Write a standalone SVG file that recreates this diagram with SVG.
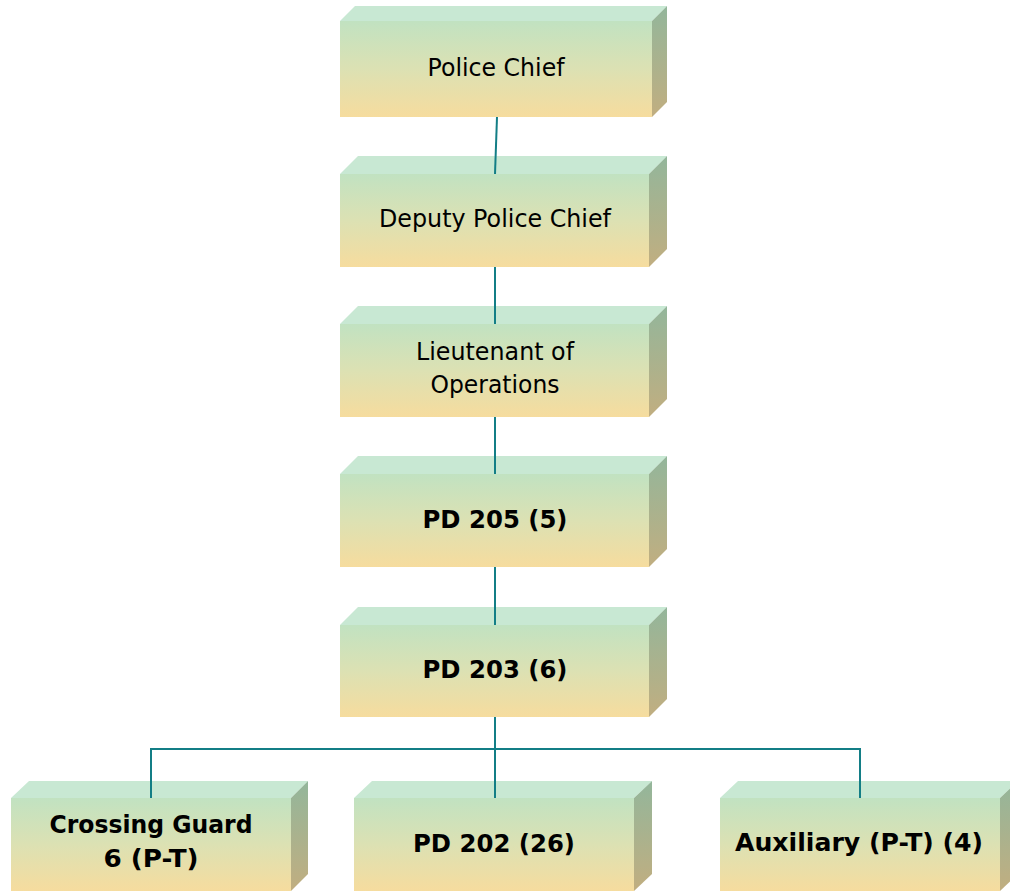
<svg xmlns="http://www.w3.org/2000/svg" width="1010" height="892" viewBox="0 0 1010 892">
<defs>
<linearGradient id="gFront" x1="0" y1="0" x2="0" y2="1">
<stop offset="0" stop-color="#c1e2c1"/>
<stop offset="0.5" stop-color="#dce1b3"/>
<stop offset="1" stop-color="#f6dc9e"/>
</linearGradient>
<linearGradient id="gSide" x1="0" y1="0" x2="0" y2="1">
<stop offset="0" stop-color="#93b69b"/>
<stop offset="1" stop-color="#c1ae80"/>
</linearGradient>
<style>
.top{fill:#c8e8d3}
.front{fill:url(#gFront)}
.side{fill:url(#gSide)}
.conn{fill:none;stroke:#137e86;stroke-width:2}
.t{font-family:"DejaVu Sans","Verdana",sans-serif;font-size:25px;fill:#000;text-anchor:middle}
.b{font-family:"DejaVu Sans","Verdana",sans-serif;font-size:24px;font-weight:bold;fill:#000;text-anchor:middle}
</style>
</defs>
<g id="n1">
<polygon class="top" points="340,21 355,6 667,6 652,21"/>
<polygon class="side" points="652,21 667,6 667,102 652,117"/>
<rect class="front" x="340" y="21" width="312" height="96"/>
<text class="t" x="496" y="76" textLength="137" lengthAdjust="spacingAndGlyphs">Police Chief</text>
</g>
<g id="n2">
<polygon class="top" points="340,174 358,156 667,156 649,174"/>
<polygon class="side" points="649,174 667,156 667,249 649,267"/>
<rect class="front" x="340" y="174" width="309" height="93"/>
<text class="t" x="495" y="227" textLength="232" lengthAdjust="spacingAndGlyphs">Deputy Police Chief</text>
</g>
<g id="n3">
<polygon class="top" points="340,324 358,306 667,306 649,324"/>
<polygon class="side" points="649,324 667,306 667,399 649,417"/>
<rect class="front" x="340" y="324" width="309" height="93"/>
<text class="t" x="495" y="360" textLength="158" lengthAdjust="spacingAndGlyphs">Lieutenant of</text>
<text class="t" x="495" y="393" textLength="129" lengthAdjust="spacingAndGlyphs">Operations</text>
</g>
<g id="n4">
<polygon class="top" points="340,474 358,456 667,456 649,474"/>
<polygon class="side" points="649,474 667,456 667,549 649,567"/>
<rect class="front" x="340" y="474" width="309" height="93"/>
<text class="b" x="495" y="528" textLength="145" lengthAdjust="spacingAndGlyphs">PD 205 (5)</text>
</g>
<g id="n5">
<polygon class="top" points="340,625 358,607 667,607 649,625"/>
<polygon class="side" points="649,625 667,607 667,699 649,717"/>
<rect class="front" x="340" y="625" width="309" height="92"/>
<text class="b" x="495" y="678" textLength="145" lengthAdjust="spacingAndGlyphs">PD 203 (6)</text>
</g>
<g id="n6">
<polygon class="top" points="11,798 29,781 308,781 291,798"/>
<polygon class="side" points="291,798 308,781 308,874 291,891"/>
<rect class="front" x="11" y="798" width="280" height="93"/>
<text class="b" x="151" y="833" textLength="203" lengthAdjust="spacingAndGlyphs">Crossing Guard</text>
<text class="b" x="151" y="867" textLength="95" lengthAdjust="spacingAndGlyphs">6 (P-T)</text>
</g>
<g id="n7">
<polygon class="top" points="354,798 372,781 652,781 634,798"/>
<polygon class="side" points="634,798 652,781 652,874 634,891"/>
<rect class="front" x="354" y="798" width="280" height="93"/>
<text class="b" x="494" y="852" textLength="162" lengthAdjust="spacingAndGlyphs">PD 202 (26)</text>
</g>
<g id="n8">
<polygon class="top" points="720,798 738,781 1018,781 1000,798"/>
<polygon class="side" points="1000,798 1018,781 1018,874 1000,891"/>
<rect class="front" x="720" y="798" width="280" height="93"/>
<text class="b" x="859" y="851" textLength="248" lengthAdjust="spacingAndGlyphs">Auxiliary (P-T) (4)</text>
</g>
<g id="connectors">
<line class="conn" x1="497" y1="117" x2="495" y2="174"/>
<line class="conn" x1="495" y1="267" x2="495" y2="324"/>
<line class="conn" x1="495" y1="417" x2="495" y2="474"/>
<line class="conn" x1="495" y1="567" x2="495" y2="625"/>
<line class="conn" x1="495" y1="717" x2="495" y2="798"/>
<polyline class="conn" points="151,798 151,749 860,749 860,798"/>
</g>
</svg>
